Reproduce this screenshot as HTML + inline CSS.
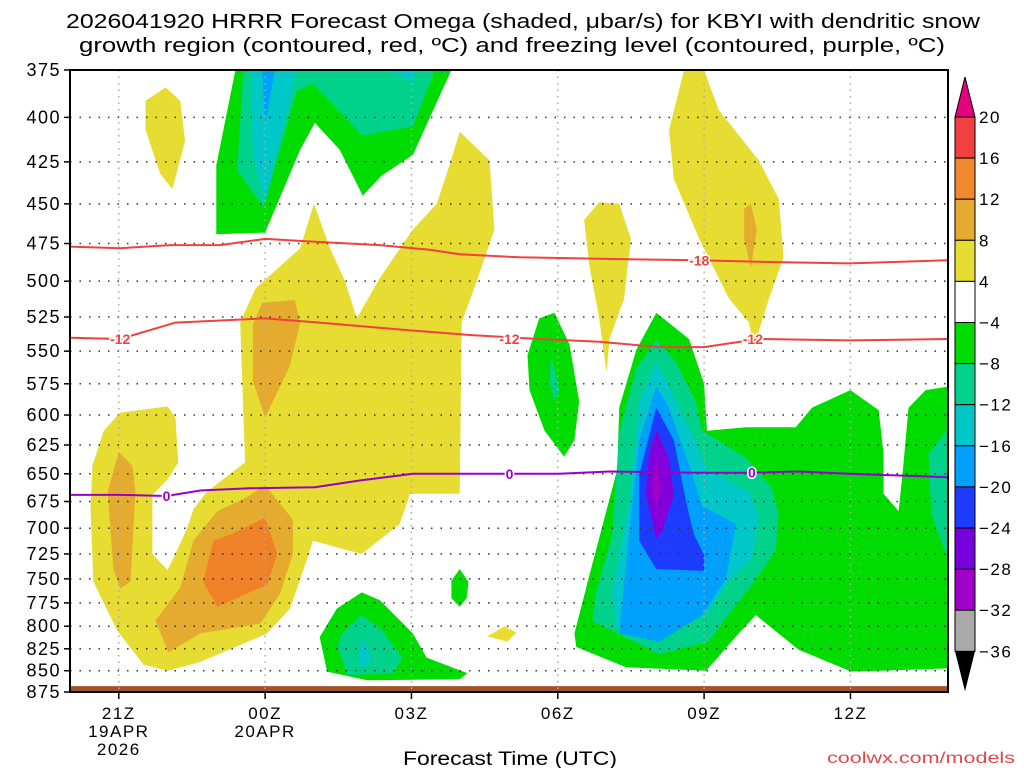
<!DOCTYPE html>
<html><head><meta charset="utf-8"><style>
body{margin:0;background:#fff;}
svg{display:block;font-family:"Liberation Sans",sans-serif;}
</style></head><body>
<svg id="c" width="1024" height="768" viewBox="0 0 1024 768">
<defs><clipPath id="pc"><rect x="70" y="70" width="878" height="622"/></clipPath></defs>
<text x="66" y="28" textLength="914" lengthAdjust="spacingAndGlyphs" font-size="20">2026041920 HRRR Forecast Omega (shaded, μbar/s) for KBYI with dendritic snow</text>
<text x="79" y="52" textLength="866" lengthAdjust="spacingAndGlyphs" font-size="20">growth region (contoured, red, ºC) and freezing level (contoured, purple, ºC)</text>
<g id="fills" clip-path="url(#pc)"></g>
<g id="grid"></g>
<g id="lines" clip-path="url(#pc)"></g>
<g id="axes"></g>
<g id="cbar"></g>
<text x="403" y="765" textLength="214" lengthAdjust="spacingAndGlyphs" font-size="19">Forecast Time (UTC)</text>
<text x="827" y="763" textLength="188" lengthAdjust="spacingAndGlyphs" font-size="16" fill="#e04848">coolwx.com/models</text>
</svg>
<script>
const pressureTicks=[375,400,425,450,475,500,525,550,575,600,625,650,675,700,725,750,775,800,825,850,875];
const timeTicks=[-3,0,3,6,9,12];
const timeLabels=[["21Z","19APR","2026"],["00Z","20APR"],["03Z"],["06Z"],["09Z"],["12Z"]];
const cbarLevels=["20","16","12","8","4","−4","−8","−12","−16","−20","−24","−28","−32","−36"];
const cbarColors=["#f24040","#f08830","#e6aa32","#e6dc32","#ffffff","#00dc00","#00d28c","#00c8c8","#00a0ff","#1e3cff","#7800dc","#a000c8","#aaaaaa"];
const fillYellow=[
[[-2.97,598],[-2.0,593],[-1.84,602],[-1.78,640],[-2.0,655],[-2.31,669],[-2.31,725],[-2.0,741],[-1.84,725],[-1.6,700],[-1.47,682],[-1.19,666],[-0.41,640],[-0.51,529],[-0.2,505],[0.72,478],[1.0,450],[1.33,478],[1.64,500],[1.88,526],[2.35,498],[3.03,466],[3.52,450],[3.78,427],[3.99,408],[4.6,424],[4.7,466],[4.36,498],[4.03,529],[3.99,668],[2.97,668],[2.76,696],[1.98,725],[0.98,712],[0.86,730],[0.51,781],[0.04,808],[-1.33,840],[-2.0,850],[-2.49,843],[-3.03,805],[-3.52,753],[-3.58,682],[-3.54,643],[-3.31,613]],
[[-2.45,391],[-2.04,384],[-1.74,391],[-1.64,413],[-1.9,441],[-2.15,432],[-2.45,407]],
[[6.54,460],[6.85,449],[7.26,450],[7.5,472],[7.36,512],[7.06,541],[7.0,566],[6.85,526],[6.65,490]],
[[8.28,407],[8.59,375],[9.0,375],[9.3,396],[10.12,424],[10.53,447],[10.63,484],[10.33,512],[10.02,547],[9.92,529],[9.51,512],[8.9,472],[8.38,435]],
[[4.56,811],[4.91,800],[5.15,807],[4.97,817]]
];
const fillOrangeYellow=[
[[-3.0,631],[-2.72,643],[-2.66,666],[-2.76,753],[-2.97,760],[-3.11,740],[-3.23,666]],
[[-0.25,530],[-0.06,515],[0.61,513],[0.72,529],[0.51,561],[0,602],[-0.25,573]],
[[0,660],[0.57,692],[0.57,725],[0.31,765],[-0.1,797],[-1.33,808],[-1.98,829],[-2.25,794],[-1.74,759],[-1.47,712],[-0.98,684],[-0.37,671]],
[[9.82,453],[9.96,450],[10.08,466],[9.96,491],[9.82,472]]
];
const fillOrange=[
[[0,690],[0.25,725],[0.04,756],[-0.98,779],[-1.27,753],[-1.06,712],[-0.65,705]]
];
const fillGreen=[
[[-0.61,375],[-1.0,427],[-1.0,469],[0,468],[0.72,418],[1.02,403],[1.53,418],[2.0,445],[2.39,433],[3.03,421],[3.82,375]],
[[1.98,764],[2.35,772],[3.03,808],[3.31,835],[4.15,853],[3.99,860],[2.09,861],[1.27,851],[1.12,812],[1.47,781]],
[[3.99,740],[4.17,753],[4.13,770],[3.99,779],[3.82,770],[3.82,752]],
[[5.62,526],[5.93,522],[6.24,545],[6.44,589],[6.34,621],[6.13,635],[5.73,613],[5.42,580],[5.38,553]],
[[8.02,522],[8.69,541],[9.0,575],[9.06,613],[9.86,610],[10.88,610],[11.21,594],[12.0,580],[12.58,596],[12.68,633],[12.68,668],[12.99,684],[13.09,640],[13.19,594],[13.54,580],[14.2,576],[14.2,847],[12.02,851],[10.94,826],[10.06,788],[9.71,808],[9.04,850],[7.4,846],[6.38,823],[6.34,808],[6.65,746],[7.22,646],[7.26,594],[7.61,549]]
];
const fillTeal=[
[[-0.45,375],[-0.57,430],[-0.04,452],[0.65,386],[0.98,382],[2.0,410],[3.03,405],[3.48,375]],
[[1.98,788],[2.35,802],[2.82,835],[2.62,853],[1.68,855],[1.49,823],[1.57,808]],
[[5.87,553],[6.03,580],[5.93,589],[5.83,573]],
[[8.02,542],[8.42,558],[8.83,589],[8.96,613],[9.86,636],[10.39,663],[10.53,687],[10.47,722],[9.98,756],[9.45,791],[9.1,817],[8.08,831],[6.71,794],[6.79,763],[7.12,706],[7.26,615],[7.61,563]],
[[14.2,600],[13.6,633],[13.66,687],[13.97,726],[14.2,730]]
];
const fillCyan=[
[[-0.27,375],[-0.25,421],[0,450],[0.65,375]],
[[2.49,375],[3.03,381],[3.11,375]],
[[2.0,813],[2.19,836],[2.0,848],[1.9,835]],
[[8.02,558],[8.35,583],[8.79,619],[9.04,646],[9.92,666],[10.12,690],[9.98,730],[9.45,756],[9.04,788],[8.08,808],[7.2,802],[7.12,766],[7.46,675],[7.67,589]]
];
const fillBlue=[
[[-0.06,375],[0,404],[0.2,375]],
[[8.02,577],[8.28,594],[8.75,649],[8.96,679],[9.65,696],[9.45,750],[8.96,788],[8.08,817],[7.26,808],[7.46,706],[7.67,621]]
];
const fillDarkBlue=[[[8.02,594],[8.38,621],[8.63,675],[8.79,706],[9.0,726],[9.0,742],[8.02,740],[7.67,712],[7.67,651]]];
const fillPurple=[[[8.02,613],[8.28,636],[8.38,669],[8.14,703],[8.02,710],[7.81,669],[7.87,633]]];
const fillMagenta=[[[8.02,636],[8.12,663],[8.02,681],[7.93,663]]];
const lineM18Hours=[-4,-2.97,-1.94,-0.92,0,1.12,2.35,3.37,3.99,5.21,6.85,8.9,10.12,11.96,14];
const lineM18P=[477,478,476,476,472,474,476,479,482,484,485,486,487,488,486];
const lineM12Hours=[-4,-2.97,-1.84,0,1.12,2.76,4.19,5.62,6.85,8.08,9.0,10.12,11.96,14];
const lineM12P=[540,541,529,526,529,534,538,541,543,547,547,541,542,541];
const line0Hours=[-4,-2.97,-2.02,-1.33,-0.31,1.02,1.94,3.03,3.99,5.01,6.03,7.06,8.9,9.98,10.94,11.96,14];
const line0P=[669,669,670,665,663,662,656,650,650,650,650,648,649,649,648,650,653];
const labelsM18=[[8.9,486]];
const labelsM12=[[-2.97,541],[5.01,541],[10.0,541]];
const labels0=[[-2.02,670],[5.01,650],[9.98,649]];

const X0=70,X1=948,Y0=70,Y1=692,H0=-4,H1=14,P0=375,P1=875;
function sx(h){return X0+(h-H0)/(H1-H0)*(X1-X0);}
function sy(p){return Y0+Math.log(p/P0)/Math.log(P1/P0)*(Y1-Y0);}
const NS='http://www.w3.org/2000/svg';
function mk(tag,attrs,parent){const e=document.createElementNS(NS,tag);for(const k in attrs)e.setAttribute(k,attrs[k]);parent.appendChild(e);return e;}
const fillsG=document.getElementById('fills');
function drawFills(arr,color,name){arr.forEach(poly=>{
 const d=poly.map((q,i)=>(i?'L':'M')+sx(q[0]).toFixed(1)+','+sy(q[1]).toFixed(1)).join('')+'Z';
 const e=mk('path',{d:d,fill:color},fillsG);
 
 
});}
drawFills(fillYellow,'#e6dc32','omega-4-to-8');
drawFills(fillOrangeYellow,'#e5ab2e','omega-8-to-12');
drawFills(fillOrange,'#ef8228','omega-12-to-16');
drawFills(fillGreen,'#00dc00','omega-minus4-to-minus8');
drawFills(fillTeal,'#00d28c','omega-minus8-to-minus12');
drawFills(fillCyan,'#00c8c8','omega-minus12-to-minus16');
drawFills(fillBlue,'#00a0ff','omega-minus16-to-minus20');
drawFills(fillDarkBlue,'#1e3cff','omega-minus20-to-minus24');
drawFills(fillPurple,'#8200dc','omega-minus24-to-minus28');
drawFills(fillMagenta,'#a000c8','omega-minus28-to-minus32');
const ground=mk('rect',{x:X0,y:sy(868),width:X1-X0,height:Y1-sy(868),fill:'#a0522d'},fillsG);



const gridG=document.getElementById('grid');
pressureTicks.forEach(p=>{
 const g=mk('line',{x1:X0,x2:X1,y1:sy(p),y2:sy(p),stroke:'#333','stroke-width':1.5,'stroke-dasharray':'1.5 8'},gridG);
 
 
});
timeTicks.forEach(h=>{
 const g=mk('line',{x1:sx(h),x2:sx(h),y1:Y0,y2:Y1,stroke:'#aaa','stroke-width':1.5,'stroke-dasharray':'1.5 5'},gridG);
 
 
});

const linesG=document.getElementById('lines');
function drawLine(hs,ps,color,name,labels,txt){
 const d=hs.map((h,i)=>(i?'L':'M')+sx(h).toFixed(1)+','+sy(ps[i]).toFixed(1)).join('');
 const e=mk('path',{d:d,fill:'none',stroke:color,'stroke-width':2},linesG);
 
 
 labels.forEach(l=>{
  const t=mk('text',{x:sx(l[0]),y:sy(l[1])+5,'text-anchor':'middle','font-size':14,'font-weight':'bold',fill:color,stroke:'#fff','stroke-width':3,'paint-order':'stroke'},linesG);
  t.textContent=txt;
  
  
 });
}
drawLine(lineM18Hours,lineM18P,'#f24040','contour-minus18',labelsM18,'-18');
drawLine(lineM12Hours,lineM12P,'#f24040','contour-minus12',labelsM12,'-12');
drawLine(line0Hours,line0P,'#9a00c8','freezing-level',labels0,'0');

const axesG=document.getElementById('axes');
const fr=mk('rect',{x:X0,y:Y0,width:X1-X0,height:Y1-Y0,fill:'none',stroke:'#000','stroke-width':2},axesG);


pressureTicks.forEach(p=>{
 mk('line',{x1:X0-6,x2:X0,y1:sy(p),y2:sy(p),stroke:'#000','stroke-width':1.5},axesG);
 const t=mk('text',{x:61,y:sy(p)+6,'text-anchor':'end','font-size':18,'letter-spacing':1.5},axesG);
 t.textContent=p;
 
 
});
timeTicks.forEach((h,i)=>{
 mk('line',{x1:sx(h),x2:sx(h),y1:Y1,y2:Y1+7,stroke:'#000','stroke-width':1.5},axesG);
 timeLabels[i].forEach((s,j)=>{
  const t=mk('text',{x:sx(h),y:719+j*18,'text-anchor':'middle','font-size':17,'letter-spacing':1.5},axesG);
  t.textContent=s;
  
  
 });
});

const cbG=document.getElementById('cbar');
const CX=955,CW=20,CT=117,CS=41.1;
const cbTop=mk('polygon',{points:`${CX},${CT} ${CX+CW/2},${CT-40} ${CX+CW},${CT}`,fill:'#e6007e',stroke:'#000','stroke-width':1},cbG);


cbarColors.forEach((c,i)=>{
 const r=mk('rect',{x:CX,y:CT+i*CS,width:CW,height:CS,fill:c,stroke:'#000','stroke-width':1},cbG);
 
 
});
const cbBot=mk('polygon',{points:`${CX},${CT+13*CS} ${CX+CW/2},${CT+13*CS+40} ${CX+CW},${CT+13*CS}`,fill:'#000'},cbG);


cbarLevels.forEach((s,i)=>{
 const t=mk('text',{x:979,y:CT+i*CS+6,'font-size':17,'letter-spacing':1.5},cbG);
 t.textContent=s;
 
 
});
</script>
</body></html>
